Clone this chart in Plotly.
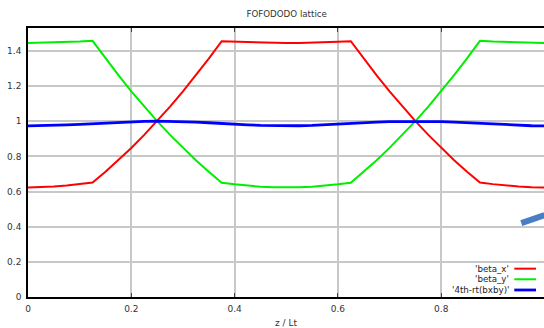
import plotly.graph_objects as go

z = [0.000, 0.025, 0.050, 0.075, 0.100, 0.125, 0.150, 0.175, 0.200, 0.225,
     0.250, 0.275, 0.300, 0.325, 0.350, 0.375, 0.400, 0.425, 0.450, 0.475,
     0.500, 0.525, 0.550, 0.575, 0.600, 0.625, 0.650, 0.675, 0.700, 0.725,
     0.750, 0.775, 0.800, 0.825, 0.850, 0.875, 0.900, 0.925, 0.950, 0.975, 1.000]

beta_x = [0.623, 0.624, 0.628, 0.634, 0.642, 0.651, 0.712, 0.778, 0.848, 0.922,
          1.000, 1.083, 1.170, 1.261, 1.356, 1.455, 1.452, 1.449, 1.446, 1.445,
          1.444, 1.445, 1.446, 1.449, 1.452, 1.455, 1.356, 1.261, 1.170, 1.083,
          1.000, 0.922, 0.848, 0.778, 0.712, 0.651, 0.642, 0.634, 0.628, 0.624, 0.623]

beta_y = [1.445, 1.446, 1.447, 1.450, 1.453, 1.457, 1.357, 1.262, 1.170, 1.083,
          1.000, 0.922, 0.848, 0.778, 0.712, 0.650, 0.641, 0.633, 0.627, 0.624,
          0.623, 0.624, 0.627, 0.633, 0.641, 0.650, 0.712, 0.778, 0.848, 0.922,
          1.000, 1.083, 1.170, 1.262, 1.357, 1.457, 1.453, 1.450, 1.447, 1.446, 1.445]

rt4 = [0.973, 0.974, 0.976, 0.979, 0.982, 0.986, 0.991, 0.995, 0.998, 0.999,
       1.000, 0.999, 0.998, 0.995, 0.991, 0.986, 0.982, 0.979, 0.976, 0.974,
       0.973, 0.974, 0.976, 0.979, 0.982, 0.986, 0.991, 0.995, 0.998, 0.999,
       1.000, 0.999, 0.998, 0.995, 0.991, 0.986, 0.982, 0.979, 0.976, 0.974, 0.973]

seg_x = [0.955, 1.0]
seg_y = [0.420, 0.466]

x_ticks = [0, 0.2, 0.4, 0.6, 0.8]
x_tick_text = ["0", "0.2", "0.4", "0.6", "0.8"]
y_ticks = [0, 0.2, 0.4, 0.6, 0.8, 1.0, 1.2, 1.4]
y_tick_text = ["0", "0.2", "0.4", "0.6", "0.8", "1", "1.2", "1.4"]

legend_names = ["'beta_x'", "'beta_y'", "'4th-rt(bxby)'"]
colors = ["#ff0000", "#00ee00", "#0000ff"]
widths = [2, 2, 2.8]

FONT = "DejaVu Sans"
TXT = "#333333"

fig = go.Figure()
series = [beta_x, beta_y, rt4]
for name, ys, c, w in zip(legend_names, series, colors, widths):
    fig.add_trace(go.Scatter(x=z, y=ys, mode="lines", name=name,
                             line=dict(color=c, width=w), showlegend=False))

fig.add_trace(go.Scatter(x=seg_x, y=seg_y, mode="lines", showlegend=False,
                         line=dict(color="#4a7ec2", width=6)))

# manual legend (text left of line sample)
L, R, T, B = 28.3, 544.0, 28.3, 297.0
def px(xp):
    return (xp - L) / (R - L)
def py(yp):
    return (B - yp) / (B - T)

rows = [268.7, 279.3, 290.0]
for name, c, w, yy in zip(legend_names, colors, widths, rows):
    fig.add_annotation(xref="paper", yref="paper", x=px(511), y=py(yy),
                       text=name, showarrow=False, xanchor="right", yanchor="middle",
                       font=dict(family=FONT, size=8.7, color="#222222"))
    fig.add_shape(type="line", xref="paper", yref="paper",
                  x0=px(514.3), x1=px(536), y0=py(yy), y1=py(yy),
                  line=dict(color=c, width=w))

# axis title
fig.add_annotation(xref="paper", yref="paper", x=px(286), y=py(322.5),
                   text="z / Lt", showarrow=False, xanchor="center", yanchor="middle",
                   font=dict(family=FONT, size=9, color=TXT))

fig.update_layout(
    width=544, height=328,
    margin=dict(l=28.3, r=0, t=28.3, b=31, autoexpand=False),
    paper_bgcolor="white", plot_bgcolor="white",
    title=dict(text="FOFODODO lattice", x=0.527, xanchor="center", y=1 - 14 / 328,
               yanchor="middle", font=dict(family=FONT, size=8.7, color=TXT)),
    font=dict(family=FONT, size=9, color=TXT),
)
fig.update_xaxes(range=[0, 0.999], tickvals=x_ticks, ticktext=x_tick_text,
                 showgrid=True, gridcolor="#c8c8c8", gridwidth=2,
                 showline=True, linecolor="black", linewidth=1.5, mirror="ticks",
                 ticks="inside", ticklen=4, tickcolor="#444444", tickwidth=1,
                 zeroline=False, automargin=False, ticklabelstandoff=2,
                 tickfont=dict(family=FONT, size=9, color=TXT))
fig.update_yaxes(range=[0, 1.53], tickvals=y_ticks, ticktext=y_tick_text,
                 showgrid=True, gridcolor="#c8c8c8", gridwidth=2,
                 showline=True, linecolor="black", linewidth=1.5,
                 ticks="", zeroline=False, ticklabelstandoff=3, automargin=False,
                 tickfont=dict(family=FONT, size=9, color=TXT))

fig.write_html("out.html", config={"displayModeBar": False},
               post_script="document.body.style.margin='0';document.body.style.padding='0';")
